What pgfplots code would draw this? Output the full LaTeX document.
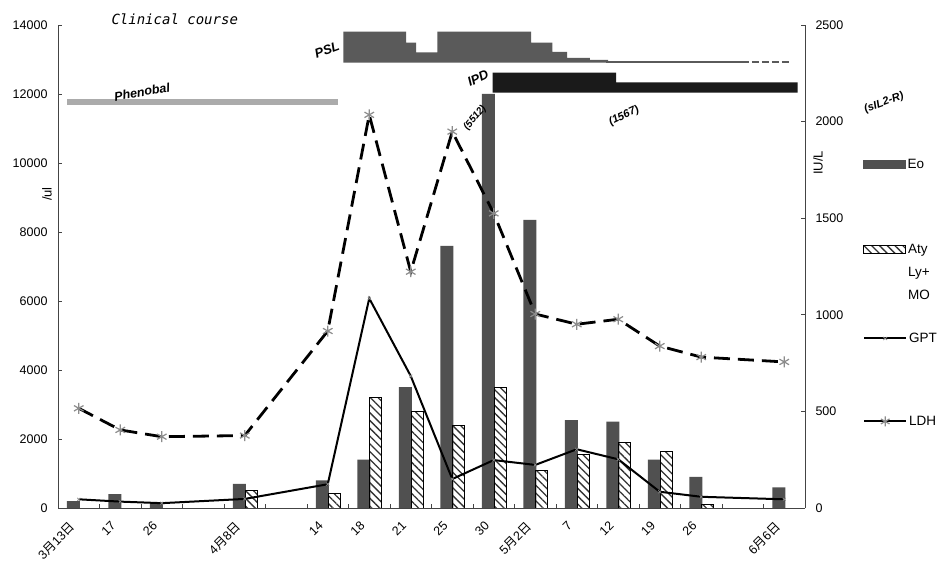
\documentclass[border=0pt]{standalone}
\usepackage{fontspec}
\setmainfont{Liberation Sans}
\newfontfamily\cjk{Noto Sans CJK JP}
\newfontfamily\monof{DejaVu Sans Mono}
\usepackage{pgfplots}
\pgfplotsset{compat=1.18}
\usetikzlibrary{patterns.meta}
\definecolor{eo}{HTML}{505050}
\definecolor{psl}{HTML}{5A5A5A}
\definecolor{ipd}{HTML}{1A1A1A}
\definecolor{pheno}{HTML}{ABABAB}
\definecolor{mk}{HTML}{8C8C8C}
\definecolor{axc}{HTML}{444444}

\pgfplotsset{
  legax/.style={at={(58pt,56pt)}, anchor=south west, scale only axis,
    width=747pt, height=483pt, hide axis, xmin=0, xmax=1, ymin=0, ymax=1,
    legend cell align=left,
    legend style={at={(1.0776,#1)}, anchor=north west, draw=none, fill=none,
      inner sep=0pt, font=\fontsize{13.5}{23}\selectfont}},
}

\pgfplotstableread{
x y
0 200
1 400
2 150
4 700
6 800
7 1400
8 3500
9 7600
10 12000
11 8350
12 2550
13 2500
14 1400
15 900
17 600
}\eotab
\pgfplotstableread{
x y
4 500
6 430
7 3200
8 2800
9 2400
10 3500
11 1100
12 1550
13 1900
14 1650
15 100
}\atytab
\pgfplotstableread{
x y
0 45
1 33
2 25
4 47
6 123
7 1085
8 683
9 150
10 248
11 223
12 304
13 252
14 84
15 58
17 45
}\gpttab
\pgfplotstableread{
x y
0 516
1 404
2 369
4 375
6 916
7 2035
8 1223
9 1948
10 1525
11 1004
12 951
13 977
14 838
15 781
17 756
}\ldhtab

\begin{document}
\begin{tikzpicture}[x=1pt,y=1pt]
\useasboundingbox (0,0) rectangle (939,564);
\fill[white] (0,0) rectangle (939,564);
\begin{axis}[
  at={(58pt,56pt)}, anchor=south west,
  scale only axis, width=747pt, height=483pt,
  xmin=-0.5, xmax=17.5, ymin=0, ymax=14000,
  axis x line*=bottom, axis y line*=left,
  axis line style={axc, line width=0.8pt},
  xtick={0,1,2,4,6,7,8,9,10,11,12,13,14,15,17},
  xticklabels={3{\cjk 月}13{\cjk 日},17,26,4{\cjk 月}8{\cjk 日},14,18,21,25,30,5{\cjk 月}2{\cjk 日},7,12,19,26,6{\cjk 月}6{\cjk 日}},
  xtick style={draw=none},
  xticklabel style={xshift=-10pt, yshift=-11pt, rotate=45, anchor=north east, font=\fontsize{12.5}{14}\selectfont, inner sep=1pt},
  ytick={0,2000,...,14000},
  tick align=inside, major tick length=4pt,
  ytick style={axc, line width=0.8pt},
  scaled y ticks=false,
  /pgf/number format/1000 sep={},
  /pgf/number format/assume math mode=true,
  yticklabel style={font=\fontsize{12.5}{14}\selectfont, xshift=-7pt},
  clip=false,
]
% treatment bars
\addplot[fill=pheno, draw=none] coordinates {(-0.283,11680) (6.247,11680) (6.247,11855) (-0.283,11855)} -- cycle;
\addplot[fill=psl, draw=none] coordinates {(6.375,12907) (6.375,13806) (7.886,13806) (7.886,13487) (8.127,13487) (8.127,13209) (8.640,13209) (8.640,13806) (10.898,13806) (10.898,13487) (11.411,13487) (11.411,13220) (11.765,13220) (11.765,13044) (12.319,13044) (12.319,12986) (12.753,12986) (12.753,12907)} -- cycle;
\addplot[psl, line width=1.6pt] coordinates {(12.70,12930) (15.98,12930)};
\addplot[psl, line width=1.3pt, dash pattern=on 7pt off 3pt] coordinates {(15.98,12930) (17.14,12930)};
\addplot[fill=ipd, draw=none] coordinates {(9.975,12038) (9.975,12618) (12.946,12618) (12.946,12339) (17.323,12339) (17.323,12038)} -- cycle;
% cell counts
\addplot[ybar, bar width=13pt, bar shift=-5.5pt, fill=eo, draw=none] table[x=x,y=y] {\eotab};
\addplot[ybar, bar width=12pt, bar shift=6.5pt, draw=black, line width=0.9pt,
  pattern={Lines[angle=-45, distance=5.5pt, line width=1.3pt]}, pattern color=black!80] table[x=x,y=y] {\atytab};
\end{axis}

\begin{axis}[
  at={(58pt,56pt)}, anchor=south west,
  scale only axis, width=747pt, height=483pt,
  xmin=-0.5, xmax=17.5, ymin=0, ymax=2500,
  axis x line*=bottom, axis y line*=right,
  axis line style={axc, line width=0.8pt},
  xtick={0.5,1.5,...,16.5}, xticklabels={},
  ytick={0,500,...,2500},
  tick align=inside, major tick length=4pt,
  tick style={axc, line width=0.8pt},
  /pgf/number format/1000 sep={},
  /pgf/number format/assume math mode=true,
  yticklabel style={font=\fontsize{12.5}{14}\selectfont, xshift=7pt},
  clip=false,
]
\addplot[black, line width=2pt, mark=x, mark size=2pt, mark options={mk, line width=0.7pt}] table[x=x,y=y] {\gpttab};
\addplot[black, line width=2.8pt, dash pattern=on 16pt off 8pt, mark=asterisk, mark size=5.5pt, mark options={solid, mk, line width=1.2pt}] table[x=x,y=y] {\ldhtab};
\end{axis}

% legend, one entry per hidden axis
\begin{axis}[legax=0.727]
\addlegendimage{legend image code/.code={\fill[eo] (0pt,-4pt) rectangle (42pt,4pt);}}
\addlegendentry{Eo}
\end{axis}
\begin{axis}[legax=0.551]
\addlegendimage{legend image code/.code={\draw[black, line width=0.9pt, pattern={Lines[angle=-45, distance=5.5pt, line width=1.3pt]}, pattern color=black!80] (0pt,-4pt) rectangle (42pt,4pt);}}
\addlegendentry{\parbox[t]{40pt}{Aty\\Ly+\\MO}}
\end{axis}
\begin{axis}[legax=0.3668]
\addlegendimage{legend image code/.code={\draw[black, line width=2pt] (0pt,0pt) -- (42pt,0pt); \draw[mk, line width=0.7pt] (19pt,-1.5pt) -- (23pt,1.5pt) (19pt,1.5pt) -- (23pt,-1.5pt);}}
\addlegendentry{GPT}
\end{axis}
\begin{axis}[legax=0.1949]
\addlegendimage{legend image code/.code={\draw[black, line width=2pt] (0pt,0pt) -- (42pt,0pt); \draw[mk, line width=1.2pt] plot[mark=asterisk, mark size=5pt] coordinates {(21pt,0pt)};}}
\addlegendentry{LDH}
\end{axis}

% annotations
\node[font=\monof\itshape\fontsize{14}{16}\selectfont, anchor=base west] at (108,539) {Clinical course};
\node[font=\bfseries\itshape\fontsize{12.5}{14}\selectfont, rotate=10] at (142,472) {Phenobal};
\node[font=\bfseries\itshape\fontsize{13}{15}\selectfont, rotate=20] at (327,514) {PSL};
\node[font=\bfseries\itshape\fontsize{13}{15}\selectfont, rotate=25] at (478,486) {IPD};
\node[font=\bfseries\itshape\fontsize{10}{12}\selectfont, rotate=50] at (475,446) {(5512)};
\node[font=\bfseries\itshape\fontsize{11}{13}\selectfont, rotate=25] at (624,448) {(1567)};
\node[font=\bfseries\itshape\fontsize{11}{13}\selectfont, rotate=20] at (884,461) {(sIL2-R)};
\node[rotate=90, font=\fontsize{13}{15}\selectfont] at (47,370) {/ul};
\node[rotate=90, font=\fontsize{13}{15}\selectfont] at (818,401) {IU/L};
\end{tikzpicture}
\end{document}
